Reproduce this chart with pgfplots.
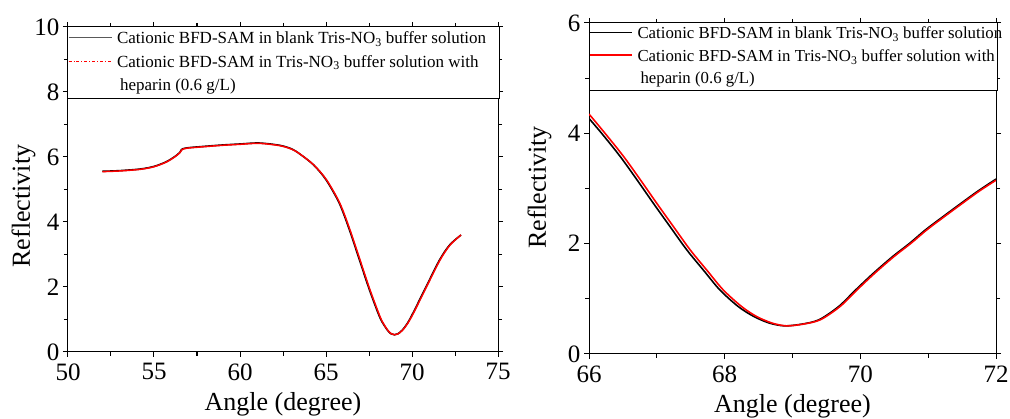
\documentclass[border=0pt]{standalone}
\usepackage{pgfplots}
\pgfplotsset{compat=1.18}
\usepackage{fontspec}
\setmainfont{Liberation Serif}
\pgfplotsset{
  myaxis/.style={
    scale only axis,
    axis line style={line width=1pt},
    every tick/.style={black, line width=1pt},
    tick align=outside,
    major tick length=5pt,
    minor tick length=4pt,
    minor x tick num=1,
    minor y tick num=1,
    /pgf/number format/assume math mode=true,
    tick label style={font=\fontsize{25}{30}\selectfont},
    xticklabel style={yshift=-3pt},
    label style={font=\fontsize{26}{31}\selectfont},
    legend cell align=left,
    legend image code/.code={\draw[#1] (0pt,1.5pt) -- (43pt,1.5pt);},
    clip=true,
  }
}
\begin{document}
\begin{tikzpicture}
\useasboundingbox (0pt,0pt) rectangle (1010pt,419pt);
% ---------------- left panel
\begin{axis}[myaxis,
  at={(68pt,67pt)}, anchor=south west,
  width=430pt, height=325pt,
  xmin=50, xmax=75, ymin=0, ymax=10,
  xtick={50,55,60,65,70,75},
  ytick={0,2,4,6,8,10},
  xlabel={Angle (degree)},
  ylabel={Reflectivity},
  xlabel style={at={(axis description cs:0.5,0)}, anchor=base, yshift=-59pt},
  ylabel style={at={(axis description cs:-0.0884,0.449)}, anchor=base},
  legend style={at={(axis description cs:0,1)}, anchor=north west,
    draw=black, line width=1pt, fill=white, inner sep=0pt, outer sep=0pt,
    row sep=0pt, column sep=5pt,
    font=\fontsize{17}{23}\selectfont,
    nodes={inner sep=0pt, outer sep=0pt, text height=16.5pt, text depth=7.2pt}},
]
\addlegendimage{draw=black!65, line width=1.1pt}
\addlegendentry{\makebox[382pt][l]{Cationic BFD-SAM in blank Tris-NO\textsubscript{3} buffer solution}}
\addlegendimage{draw=red, line width=0.9pt, dash dot}
\addlegendentry{\makebox[382pt][l]{Cationic BFD-SAM in Tris-NO\textsubscript{3} buffer solution with}}
\addlegendimage{empty legend}
\addlegendentry{\makebox[382pt][l]{\hspace{3pt}heparin (0.6 g/L)}}
\addplot[black, line width=1.6pt, smooth, forget plot] coordinates {
(52.0,5.56) (53.0,5.58) (54.2,5.63) (55.0,5.71) (55.7,5.85) (56.2,6.01) (56.5,6.14) (56.6,6.23)
(56.9,6.28) (58.0,6.33) (59.0,6.37) (60.0,6.40) (61.1,6.43) (62.3,6.36) (63.0,6.25) (63.46,6.10)
(64.27,5.76) (65.0,5.30) (65.77,4.58) (66.36,3.76) (66.94,2.84) (67.52,1.92) (68.1,1.10)
(68.37,0.83) (68.59,0.66) (68.78,0.56) (68.98,0.53) (69.18,0.56) (69.43,0.67) (69.73,0.88)
(70.06,1.20) (70.83,2.02) (71.61,2.84) (72.2,3.30) (72.85,3.60)
};
\addplot[red, line width=1.5pt, smooth, forget plot] coordinates {
(52.0,5.55) (53.0,5.57) (54.2,5.62) (55.0,5.70) (55.7,5.84) (56.2,6.00) (56.5,6.13) (56.62,6.22)
(56.9,6.27) (58.0,6.32) (59.0,6.36) (60.0,6.39) (61.1,6.42) (62.3,6.35) (63.0,6.24) (63.49,6.09)
(64.3,5.75) (65.04,5.29) (65.81,4.57) (66.4,3.75) (66.98,2.83) (67.56,1.91) (68.14,1.09)
(68.4,0.82) (68.62,0.65) (68.8,0.56) (69.0,0.53) (69.2,0.56) (69.45,0.67) (69.75,0.88)
(70.08,1.19) (70.85,2.01) (71.63,2.83) (72.21,3.29) (72.85,3.60)
};
\end{axis}
% ---------------- right panel
\begin{axis}[myaxis,
  at={(589pt,65pt)}, anchor=south west,
  width=407pt, height=331pt,
  xmin=66, xmax=72, ymin=0, ymax=6,
  xtick={66,68,70,72},
  ytick={0,2,4,6},
  xlabel={Angle (degree)},
  ylabel={Reflectivity},
  xlabel style={at={(axis description cs:0.5,0)}, anchor=base, yshift=-59pt},
  ylabel style={at={(axis description cs:-0.1057,0.503)}, anchor=base},
  legend image code/.code={\draw[#1] (0pt,1.5pt) -- (42pt,1.5pt);},
  legend style={at={(axis description cs:0,1)}, anchor=north west,
    draw=black, line width=1pt, fill=white, inner sep=0pt, outer sep=0pt,
    row sep=0pt, column sep=5pt,
    font=\fontsize{16.8}{22.5}\selectfont,
    nodes={inner sep=0pt, outer sep=0pt, text height=16pt, text depth=6.5pt}},
]
\addlegendimage{draw=black, line width=1.5pt}
\addlegendentry{\makebox[360pt][l]{Cationic BFD-SAM in blank Tris-NO\textsubscript{3} buffer solution}}
\addlegendimage{draw=red, line width=1.5pt}
\addlegendentry{\makebox[360pt][l]{Cationic BFD-SAM in Tris-NO\textsubscript{3} buffer solution with}}
\addlegendimage{empty legend}
\addlegendentry{\makebox[360pt][l]{\hspace{3pt}heparin (0.6 g/L)}}
\addplot[black, line width=1.6pt, smooth, forget plot] coordinates {
(66.0,4.27) (66.2,3.98) (66.46,3.58) (66.7,3.17) (66.95,2.73) (67.2,2.30) (67.44,1.89)
(67.7,1.50) (67.93,1.16) (68.2,0.86) (68.43,0.68) (68.66,0.56) (68.88,0.51) (69.13,0.54)
(69.39,0.62) (69.68,0.86) (69.93,1.16) (70.18,1.45) (70.47,1.76) (70.73,2.01) (70.96,2.25)
(71.23,2.50) (71.45,2.70) (71.73,2.95) (72.0,3.17)
};
\addplot[red, line width=1.6pt, smooth, forget plot] coordinates {
(66.0,4.35) (66.25,3.98) (66.51,3.58) (66.75,3.17) (67.0,2.73) (67.25,2.30) (67.49,1.89)
(67.75,1.50) (67.98,1.16) (68.25,0.86) (68.47,0.68) (68.7,0.56) (68.91,0.51) (69.15,0.54)
(69.41,0.62) (69.7,0.86) (69.95,1.16) (70.2,1.45) (70.49,1.76) (70.75,2.01) (70.98,2.25)
(71.25,2.50) (71.47,2.70) (71.75,2.95) (72.0,3.15)
};
\end{axis}
\end{tikzpicture}
\end{document}
